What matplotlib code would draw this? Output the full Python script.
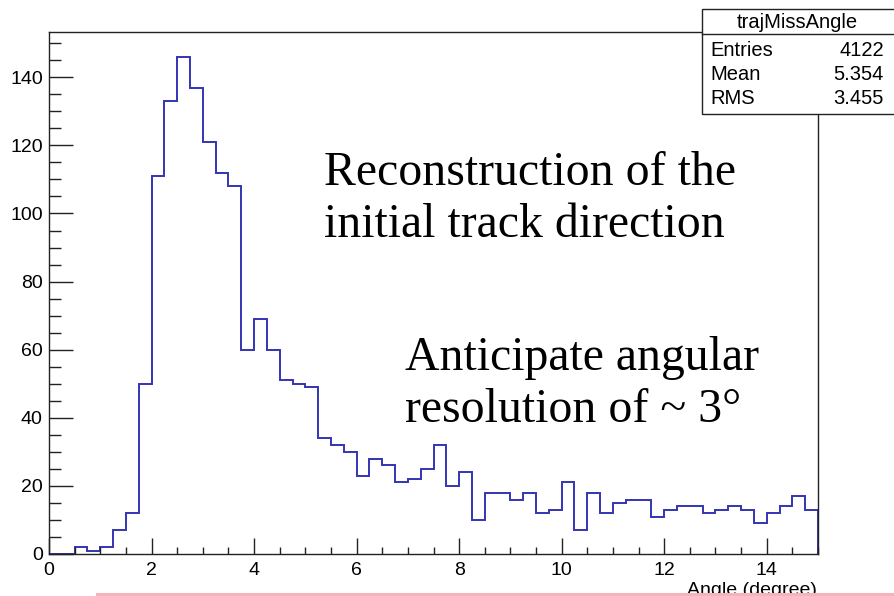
import numpy as np
import matplotlib
matplotlib.use("Agg")
import matplotlib.pyplot as plt
from matplotlib.patches import Rectangle
from matplotlib.lines import Line2D
from matplotlib.ticker import MultipleLocator

# Histogram of trajectory miss angle, 0.25 degree bins from 0 to 15
bin_low = 0.0
bin_width = 0.25
counts = [0, 0, 2, 1, 2, 7, 12, 50,
          111, 133, 146, 137, 121, 112, 108, 60,
          69, 60, 51, 50, 49, 34, 32, 30,
          23, 28, 26, 21, 22, 25, 32, 20,
          24, 10, 18, 18, 16, 18, 12, 13,
          21, 7, 18, 12, 15, 16, 16, 11,
          13, 14, 14, 12, 13, 14, 13, 9,
          12, 14, 17, 13]

hist_name = "trajMissAngle"
stat_labels = ["Entries", "Mean", "RMS"]
stat_values = ["4122", "5.354", "3.455"]
x_label = "Angle (degree)"
note_top = ["Reconstruction of the", "initial track direction"]
note_bottom = ["Anticipate angular", "resolution of ~ 3\u00b0"]

W, H = 894, 596
fig = plt.figure(figsize=(W / 100, H / 100), dpi=100)
fig.patch.set_facecolor("white")


def fx(px):
    return px / W


def fy(py):
    return 1 - py / H


left, right, top, bottom = 49, 818, 32, 554
ax = fig.add_axes([fx(left), fy(bottom), fx(right) - fx(left), fy(top) - fy(bottom)])

edges = bin_low + bin_width * np.arange(len(counts) + 1)
ax.stairs(counts, edges, baseline=0, color="#3434b4", lw=1.4)

ax.set_xlim(0, 15)
ax.set_ylim(0, 1.05 * max(counts))
ax.xaxis.set_major_locator(MultipleLocator(2))
ax.xaxis.set_minor_locator(MultipleLocator(0.5))
ax.yaxis.set_major_locator(MultipleLocator(20))
ax.yaxis.set_minor_locator(MultipleLocator(5))

for s in ax.spines.values():
    s.set_color("#222222")
    s.set_linewidth(1.0)

ax.tick_params(axis="x", which="major", direction="in", length=11.5, width=1.0,
               color="#222222", pad=5.5, labelsize=14)
ax.tick_params(axis="x", which="minor", direction="in", length=5, width=1.0,
               color="#222222")
ax.tick_params(axis="y", which="major", direction="in", length=17, width=1.0,
               color="#222222", pad=4.5, labelsize=14)
ax.tick_params(axis="y", which="minor", direction="in", length=8.5, width=1.0,
               color="#222222")
for lab in ax.get_xticklabels() + ax.get_yticklabels():
    lab.set_fontfamily("Liberation Sans")

# Statistics box
bx0, by0, bx1, by1, bsep = 702, 9, 895, 114, 34
fig.add_artist(Rectangle((fx(bx0), fy(by1)), fx(bx1) - fx(bx0), fy(by0) - fy(by1),
                         transform=fig.transFigure, facecolor="white",
                         edgecolor="#222222", lw=1.0, zorder=5))
fig.add_artist(Line2D([fx(bx0), fx(bx1)], [fy(bsep), fy(bsep)],
                      transform=fig.transFigure, color="#222222", lw=1.0, zorder=6))
fig.text(fx((bx0 + 893) / 2), fy(22), hist_name, ha="center", va="center",
         fontsize=14.5, family="Liberation Sans", zorder=7)
for i, (lbl, val) in enumerate(zip(stat_labels, stat_values)):
    yc = 51 + i * 23.5
    fig.text(fx(710), fy(yc), lbl, ha="left", va="center", fontsize=14.5,
             family="Liberation Sans", zorder=7)
    fig.text(fx(884), fy(yc), val, ha="right", va="center", fontsize=14.5,
             family="Liberation Sans", zorder=7)

# Axis title
fig.text(fx(817), fy(582), x_label, ha="right", va="top", fontsize=14,
         family="Liberation Sans", zorder=4)

# Annotations
for i, line in enumerate(note_top):
    fig.text(fx(324), fy(185 + 52 * i), line, ha="left", va="baseline",
             fontsize=34.4, family="Liberation Serif", zorder=4)
for i, line in enumerate(note_bottom):
    fig.text(fx(405), fy(370 + 52 * i), line, ha="left", va="baseline",
             fontsize=34.4, family="Liberation Serif", zorder=4)

# Thin pink rule along the bottom edge
fig.add_artist(Line2D([fx(97), fx(894)], [fy(593.5), fy(593.5)],
                      transform=fig.transFigure, color="#f5b3bd", lw=2.2, zorder=8))

fig.savefig("out.png", dpi=100)
